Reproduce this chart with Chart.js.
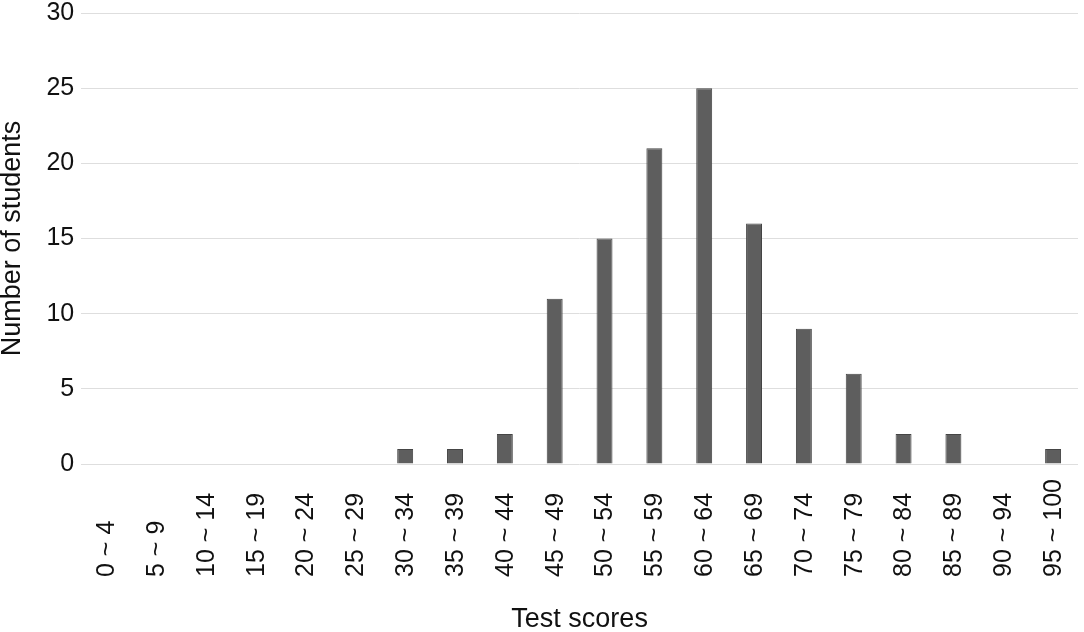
<!DOCTYPE html>
<html>
<head>
<meta charset="utf-8">
<script src="https://cdn.jsdelivr.net/npm/chart.js@4/dist/chart.umd.min.js"></script>
<style>
  html, body { margin: 0; padding: 0; background: #fff; }
  #wrap { width: 1084px; height: 632px; position: relative; }
</style>
</head>
<body>
<div id="wrap"><canvas id="scoreChart"></canvas></div>
<script>
/* =========================
   DATA
========================= */
const scoreBins = [
  "0 ~ 4", "5 ~ 9", "10 ~ 14", "15 ~ 19", "20 ~ 24", "25 ~ 29", "30 ~ 34",
  "35 ~ 39", "40 ~ 44", "45 ~ 49", "50 ~ 54", "55 ~ 59", "60 ~ 64", "65 ~ 69",
  "70 ~ 74", "75 ~ 79", "80 ~ 84", "85 ~ 89", "90 ~ 94", "95 ~ 100"
];
const studentCounts = [0, 0, 0, 0, 0, 0, 1, 1, 2, 11, 15, 21, 25, 16, 9, 6, 2, 2, 0, 1];
const yTicks = [0, 5, 10, 15, 20, 25, 30];

const FONT = "'Liberation Sans', Arial, sans-serif";

/* =========================
   X LABELS (rotated, bottom aligned)
========================= */
const bottomLabels = {
  id: "bottomLabels",
  afterDraw(chart) {
    const xs = chart.scales.x;
    const ctx = chart.ctx;
    ctx.save();
    ctx.fillStyle = "#111";
    ctx.font = "25px " + FONT;
    ctx.textAlign = "left";
    ctx.textBaseline = "middle";
    scoreBins.forEach((lbl, i) => {
      const px = xs.getPixelForValue(i);
      ctx.save();
      ctx.translate(px, 577);
      ctx.rotate(-Math.PI / 2);
      ctx.fillText(lbl, 0, 1);
      ctx.restore();
    });
    ctx.restore();
  }
};

new Chart(document.getElementById("scoreChart"), {
  type: "bar",
  data: {
    labels: scoreBins,
    datasets: [{
      data: studentCounts,
      backgroundColor: "#5e5e5e",
      borderColor: "#454545",
      borderWidth: 1,
      barPercentage: 0.32,
      categoryPercentage: 1
    }]
  },
  options: {
    responsive: true,
    maintainAspectRatio: false,
    animation: false,
    layout: { padding: { left: 0, right: 6, top: 0, bottom: 0 } },
    plugins: { legend: { display: false }, tooltip: { enabled: false } },
    scales: {
      x: {
        grid: { display: false },
        border: { display: false },
        ticks: { display: false },
        afterFit(scale) { scale.height = 168; },
        title: {
          display: true,
          text: "Test scores",
          color: "#111",
          font: { family: FONT, size: 27 },
          padding: { top: 0, bottom: -4 }
        }
      },
      y: {
        min: 0,
        max: 30,
        afterBuildTicks(scale) { scale.ticks = yTicks.map(v => ({ value: v })); },
        afterFit(scale) { scale.paddingTop = 13; },
        grid: { color: "#dedede", lineWidth: 1, drawTicks: false },
        border: { display: false },
        ticks: {
          color: "#111",
          font: { family: FONT, size: 25 },
          padding: 7
        },
        title: {
          display: true,
          text: "Number of students",
          color: "#111",
          font: { family: FONT, size: 27 },
          padding: { top: -4, bottom: 11 }
        }
      }
    }
  },
  plugins: [bottomLabels]
});
</script>
</body>
</html>
